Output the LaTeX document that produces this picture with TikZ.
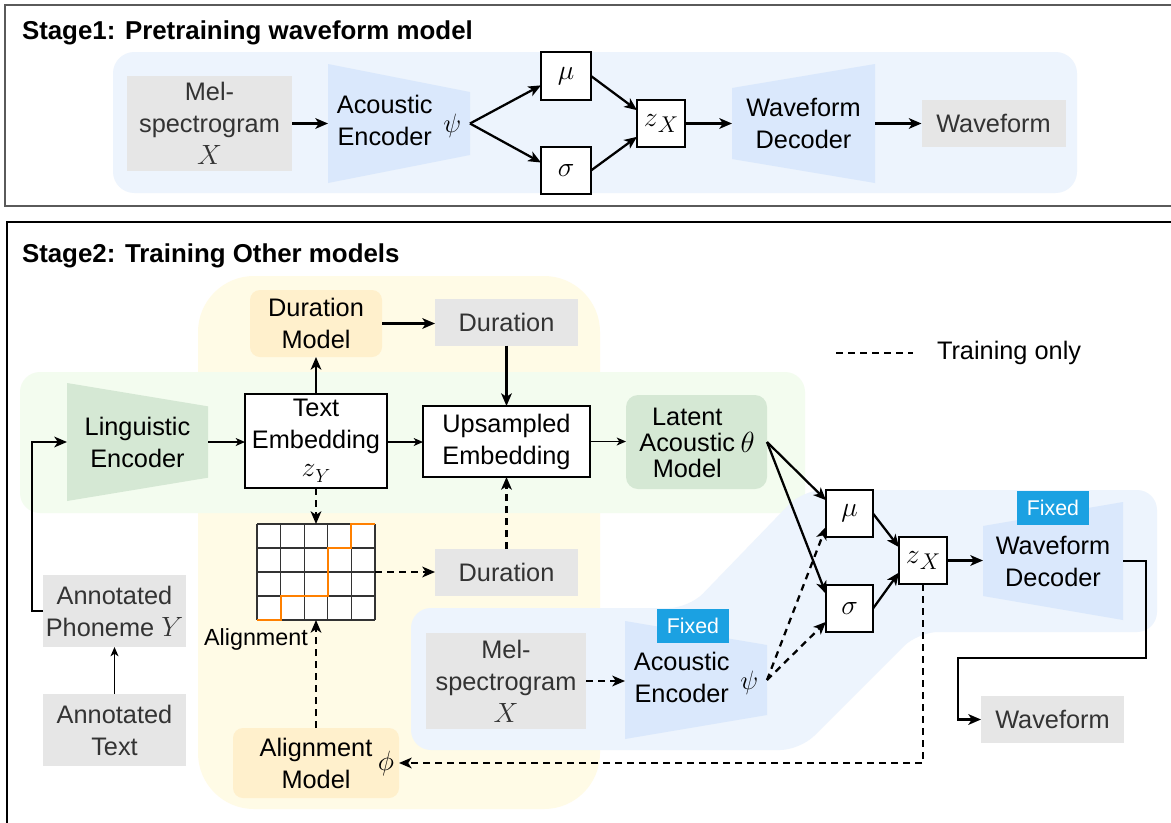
\RequirePackage{fix-cm}
\documentclass[tikz,border=0pt]{standalone}
\usepackage{graphicx}
\usepackage{fontspec}
\setmainfont{Liberation Sans}
\usetikzlibrary{arrows.meta,calc}

\pgfdeclarelayer{regions}
\pgfdeclarelayer{shapes}
\pgfsetlayers{regions,shapes,main}

\definecolor{boxgray}{HTML}{E6E6E6}
\definecolor{txtgray}{HTML}{333333}
\definecolor{encblue}{HTML}{DAE8FC}
\definecolor{bgblue}{HTML}{EDF4FD}
\definecolor{encgreen}{HTML}{D5E8D4}
\definecolor{bggreen}{HTML}{F3FCEF}
\definecolor{bgyellow}{HTML}{FFFBE6}
\definecolor{boxorange}{HTML}{FFF0CC}
\definecolor{fixedblue}{HTML}{1BA1E2}
\definecolor{pathorange}{HTML}{FF8000}
\definecolor{framegray}{HTML}{5A5A5A}

% math symbols at a chosen scale of the sans text size
\newcommand{\msym}[2][1.1]{\scalebox{#1}{$#2$}}
% latent variable z with a large, lowered subscript
\newcommand{\zsub}[2][0.9]{\scalebox{1.1}{$z$}\raisebox{-4.5pt}{\scalebox{#1}{$#2$}}}

% trapezoid fills behind a named node: narrowing to the right / to the left
\newcommand{\narrowright}[3]{%
  \begin{pgfonlayer}{shapes}
    \fill[#2] (#1.north west) -- ([yshift=-#3]#1.north east) -- ([yshift=#3]#1.south east) -- (#1.south west) -- cycle;
  \end{pgfonlayer}}
\newcommand{\narrowleft}[3]{%
  \begin{pgfonlayer}{shapes}
    \fill[#2] (#1.north east) -- ([yshift=-#3]#1.north west) -- ([yshift=#3]#1.south west) -- (#1.south east) -- cycle;
  \end{pgfonlayer}}

\begin{document}
\begin{tikzpicture}[x=0.75pt,y=-0.75pt,
  every node/.style={font=\fontsize{19}{24}\selectfont, inner sep=0pt, outer sep=0pt, align=center},
  sz/.style 2 args={minimum width=#1*0.75pt, minimum height=#2*0.75pt},
  graybox/.style={fill=boxgray, text=txtgray},
  whitebox/.style={draw=black, line width=1pt, fill=white},
  orangebox/.style={fill=boxorange, rounded corners=7.5pt},
  greenbox/.style={fill=encgreen, rounded corners=9pt},
  fixedtag/.style={fill=fixedblue, text=white, font=\fontsize{16}{19}\selectfont, sz={72}{34}},
  titletext/.style={anchor=base west, font=\bfseries\fontsize{19.4}{23}\selectfont},
  arr/.style={line width=1.7pt, -{Stealth[length=9.5pt,width=8pt,inset=2.6pt]}},
  thinarr/.style={line width=0.9pt, -{Stealth[length=7pt,width=6pt,inset=2pt]}},
  dashline/.style={dash pattern=on 5pt off 4pt},
  darr/.style={arr, dashline},
  gridline/.style={draw=txtgray, line width=0.8pt}]

\useasboundingbox (0,0) rectangle (1171,822);

% ---------- background regions ----------
\begin{pgfonlayer}{regions}
  \fill[white] (0,0) rectangle (1171,822);
  \fill[bgblue, rounded corners=16pt] (113,52) rectangle (1077,193);
  \fill[bgyellow, rounded corners=42pt] (198,276) rectangle (600,809);
  \fill[bggreen, rounded corners=15pt] (20,372) rectangle (805,513);
  \fill[bgblue, rounded corners=15pt] (411,608) -- (689,608) -- (803,490) -- (1157,490)
       -- (1157,632) -- (918,632) -- (800,750) -- (411,750) -- cycle;
\end{pgfonlayer}

% ---------- frames ----------
\draw[framegray, line width=1.5pt] (5,5) rectangle (1190,206);
\draw[black, line width=1pt] (7,222) rectangle (1190,840);
\node[titletext] (title1) at (22,39) {Stage1: Pretraining waveform model};
\node[titletext] (title2) at (22,262) {Stage2: Training Other models};

% ---------- Stage 1 ----------
\node[graybox, sz={165}{95}] (mel1) at (209.5,123.5) {Mel-\\spectrogram\\\msym{X}};
\node[sz={142}{119}] (enc1) at (399,123.5)
  {\begin{tabular}{@{}c@{}}Acoustic\\Encoder\end{tabular}\hspace{8pt}\raisebox{-2pt}{\msym[1.05]{\psi}}};
\narrowright{enc1}{encblue}{21pt}
\node[whitebox, sz={50}{48}] (mu1) at (566,76) {\msym{\mu}};
\node[whitebox, sz={50}{47}] (sig1) at (566,170.5) {\msym{\sigma}};
\node[whitebox, sz={48}{47}] (z1) at (661,123.5) {\zsub{X}};
\node[sz={143}{119}] (dec1) at (803.5,123.5) {Waveform\\Decoder};
\narrowleft{dec1}{encblue}{18pt}
\node[graybox, sz={144}{47}] (wav1) at (993.5,123.5) {Waveform};

\draw[arr] (mel1.east) -- (enc1.west);
\draw[arr] (enc1.east) -- ([yshift=-7pt]mu1.west);
\draw[arr] (enc1.east) -- ([yshift=6pt]sig1.west);
\draw[arr] (mu1.east) -- ([yshift=10pt]z1.west);
\draw[arr] (sig1.east) -- ([yshift=-10pt]z1.west);
\draw[arr] (z1.east) -- (dec1.west);
\draw[arr] (dec1.east) -- (wav1.west);

% ---------- Stage 2 ----------
\node[orangebox, sz={132}{67}] (dm) at (316,323.5) {Duration\\Model};
\node[graybox, sz={143}{47}] (dur1) at (506.5,322) {Duration};
\node[whitebox, sz={142}{94}] (te) at (316,441) {Text\\Embedding\\[-3pt]\zsub[0.75]{Y}};
\node[sz={141}{118}] (le) at (137.5,442) {Linguistic\\Encoder};
\narrowright{le}{encgreen}{17.5pt}
\node[whitebox, sz={167}{71}] (ue) at (506.5,441.5) {Upsampled\\Embedding};
\node[greenbox, sz={141}{94}] (lam) at (696.5,442) {};
\node[font=\fontsize{19}{19.5}\selectfont] (lamtext) at (697,446)
  {\begin{tabular}{@{}c@{}}Latent\\Acoustic\\Model\end{tabular}\hspace{4pt}\msym[1.15]{\theta}};

\node[whitebox, sz={47}{47}] (mu2) at (849.5,513.5) {\msym{\mu}};
\node[whitebox, sz={47}{47}] (sig2) at (849.5,608.5) {\msym{\sigma}};
\node[whitebox, sz={48}{47}] (z2) at (923,560.5) {\zsub{X}};
\node[sz={140}{118}] (dec2) at (1053,561) {Waveform\\Decoder};
\narrowleft{dec2}{encblue}{18pt}
\node[fixedtag] (fixdec) at (1053,507.5) {Fixed};
\node[graybox, sz={143}{47}] (wav2) at (1052.5,719.5) {Waveform};

% alignment matrix with its monotonic path
\node[fill=white, sz={118}{96}] (grid) at (316,572) {};
\foreach \i in {0,...,5}
  \draw[gridline] ($(grid.north west)+(\i*23.6,0)$) -- ($(grid.south west)+(\i*23.6,0)$);
\foreach \j in {0,...,4}
  \draw[gridline] ($(grid.north west)+(0,\j*24)$) -- ($(grid.north east)+(0,\j*24)$);
\draw[pathorange, line width=1.5pt] (grid.south west) -- ++(23.6,0) -- ++(0,-24) -- ++(47.2,0)
  -- ++(0,-48) -- ++(23.6,0) -- ++(0,-24) -- ++(23.6,0);
\node[font=\fontsize{17.5}{21}\selectfont] (alignlbl) at (256,639) {Alignment};

\node[graybox, sz={143}{47}] (dur2) at (506.5,572.5) {Duration};
\node[orangebox, sz={166}{70}] (am) at (316,763) {Alignment\\Model};
\node (phi) at (386,764) {\msym{\phi}};

\node[graybox, sz={160}{96}] (mel2) at (506,681) {Mel-\\spectrogram\\\msym{X}};
\node[sz={142}{118}] (enc2) at (696,680)
  {\begin{tabular}{@{}c@{}}Acoustic\\Encoder\end{tabular}\hspace{8pt}\raisebox{-2pt}{\msym[1.05]{\psi}}};
\narrowright{enc2}{encblue}{18pt}
\node[fixedtag] (fixenc) at (693,626) {Fixed};

\node[graybox, sz={143}{72}] (ap) at (114.5,611) {Annotated\\Phoneme \msym{Y}};
\node[graybox, sz={143}{72}] (at) at (114.5,730) {Annotated\\Text};

% legend
\coordinate (lga) at (836,353);
\coordinate (lgb) at (913,353);
\draw[dashline, line width=1pt] (lga) -- (lgb);
\node[anchor=west] (lgt) at (937,353) {Training only};

% connectors
\draw[arr] (dm.east) -- (dm.east -| dur1.west);
\draw[arr] (te.north) -- (dm.south);
\draw[arr] (dur1.south) -- (ue.north);
\draw[thinarr] (le.east) -- (le.east -| te.west);
\draw[thinarr] (le.east -| te.east) -- (le.east -| ue.west);
\draw[thinarr] (ue.east) -- (ue.east -| lam.west);
\draw[arr] (ap.west) -- ++(-11,0) |- (le.west);
\draw[thinarr] (at.north) -- (ap.south);

\draw[darr] (te.south) -- (grid.north);
\draw[darr] (grid.east) -- (grid.east -| dur2.west);
\draw[darr] (dur2.north) -- (ue.south);
\draw[darr] (am.north) -- (grid.south);

\draw[arr] (lam.east) -- ([yshift=10pt]mu2.west);
\draw[arr] (lam.east) -- ([yshift=11pt]sig2.west);
\draw[darr] (mel2.east) -- (mel2.east -| enc2.west);
\draw[darr] (enc2.east) -- ([yshift=-10pt]mu2.west);
\draw[darr] (enc2.east) -- ([yshift=-10pt]sig2.west);
\draw[arr] (mu2.east) -- ([yshift=10pt]z2.west);
\draw[arr] (sig2.east) -- ([yshift=-9pt]z2.west);
\draw[arr] (z2.east) -- (z2.east -| dec2.west);
\draw[darr] (z2.south) |- (am.east);

\coordinate (wr1) at (1146,658);
\coordinate (wr2) at (958,658);
\draw[arr] (dec2.east) -| (wr1) -- (wr2) |- (wav2.west);

\end{tikzpicture}
\end{document}
